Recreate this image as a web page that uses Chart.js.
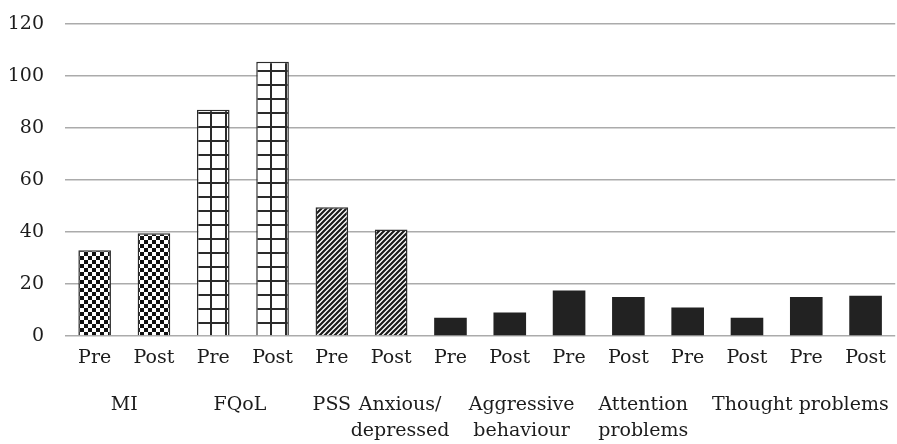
<!DOCTYPE html>
<html>
<head>
<meta charset="utf-8">
<script src="https://cdn.jsdelivr.net/npm/chart.js@4"></script>
<style>
  html, body { margin: 0; padding: 0; background: #fff; }
  #wrap { width: 897px; height: 444px; }
</style>
</head>
<body>
<div id="wrap"><canvas id="chart"></canvas></div>
<script>
// bar labels and values
const barLabels = ['Pre', 'Post', 'Pre', 'Post', 'Pre', 'Post', 'Pre', 'Post', 'Pre', 'Post', 'Pre', 'Post', 'Pre', 'Post'];
const barValues = [33, 39.5, 87, 105.5, 49.5, 41, 7, 9, 17.5, 15, 11, 7, 15, 15.5];
const barFills = ['checker', 'checker', 'grid', 'grid', 'hatch', 'hatch', 'solid', 'solid', 'solid', 'solid', 'solid', 'solid', 'solid', 'solid'];

// measure names under the Pre/Post row, placed at a category index
const groupLabels = ['MI', 'FQoL', 'PSS', ['Anxious/', 'depressed'], ['Aggressive', 'behaviour'], ['Attention', 'problems'], 'Thought problems'];
const groupAt = [0.5, 2.45, 4, 5.15, 7.2, 9.25, 11.9];

const yTicks = [0, 20, 40, 60, 80, 100, 120];

const FONT = "'DejaVu Serif', 'Liberation Serif', serif";
const INK = '#1c1c1c';

function makePattern(kind) {
    const c = document.createElement('canvas');
    const ctx = c.getContext('2d');
    if (kind === 'checker') {
        c.width = 8; c.height = 8;
        ctx.fillStyle = '#fff';
        ctx.fillRect(0, 0, 8, 8);
        ctx.fillStyle = '#111';
        ctx.fillRect(0, 0, 4, 4);
        ctx.fillRect(4, 4, 4, 4);
    } else if (kind === 'grid') {
        c.width = 15; c.height = 14;
        ctx.fillStyle = '#fff';
        ctx.fillRect(0, 0, 15, 14);
        ctx.fillStyle = '#2a2a2a';
        ctx.fillRect(0, 0, 2, 14);
        ctx.fillRect(0, 0, 15, 2);
    } else if (kind === 'hatch') {
        const s = 5;
        c.width = s; c.height = s;
        ctx.fillStyle = '#fff';
        ctx.fillRect(0, 0, s, s);
        ctx.strokeStyle = '#1a1a1a';
        ctx.lineWidth = 2.2;
        ctx.beginPath();
        ctx.moveTo(0, s); ctx.lineTo(s, 0);
        ctx.moveTo(-1, 1); ctx.lineTo(1, -1);
        ctx.moveTo(s - 1, s + 1); ctx.lineTo(s + 1, s - 1);
        ctx.stroke();
    } else {
        return '#222222';
    }
    return c.getContext('2d').createPattern(c, 'repeat');
}

const fills = barFills.map(makePattern);

const groupLabelPlugin = {
    id: 'groupLabels',
    afterDraw(chart) {
        const ctx = chart.ctx;
        const x = chart.scales.x;
        const top = chart.chartArea.bottom + 69;
        ctx.save();
        ctx.font = '19px ' + FONT;
        ctx.fillStyle = INK;
        ctx.textAlign = 'center';
        ctx.textBaseline = 'middle';
        groupLabels.forEach((label, i) => {
            const px = x.getPixelForValue(groupAt[i]);
            const lines = Array.isArray(label) ? label : [label];
            lines.forEach((line, j) => ctx.fillText(line, px, top + j * 26));
        });
        ctx.restore();
    }
};

new Chart(document.getElementById('chart'), {
    type: 'bar',
    data: {
        labels: barLabels,
        datasets: [{
            data: barValues,
            backgroundColor: fills,
            borderColor: barFills.map(f => f === 'solid' ? '#222222' : '#2b2b2b'),
            borderWidth: barFills.map(f => f === 'solid' ? 0 : 1.5),
            categoryPercentage: 1,
            barPercentage: 0.55
        }]
    },
    options: {
        responsive: true,
        maintainAspectRatio: false,
        animation: false,
        layout: { padding: { top: 24, right: 0, bottom: 0, left: 0 } },
        plugins: {
            legend: { display: false },
            tooltip: { enabled: false }
        },
        scales: {
            x: {
                grid: { display: false, drawTicks: false },
                border: { display: false },
                ticks: { color: INK, font: { family: FONT, size: 19 }, padding: 11, maxRotation: 0, autoSkip: false },
                afterFit(scale) { scale.height = 108; }
            },
            y: {
                min: 0,
                max: 120,
                afterBuildTicks(scale) { scale.ticks = yTicks.map(v => ({ value: v })); },
                grid: { color: '#ababab', lineWidth: 1.6, drawTicks: false },
                border: { display: false },
                ticks: { color: INK, font: { family: FONT, size: 19 }, padding: 21 },
                afterFit(scale) {
                    scale.width = 65;
                    scale.paddingTop = 0;
                    scale.paddingBottom = 0;
                }
            }
        }
    },
    plugins: [groupLabelPlugin]
});
</script>
</body>
</html>
